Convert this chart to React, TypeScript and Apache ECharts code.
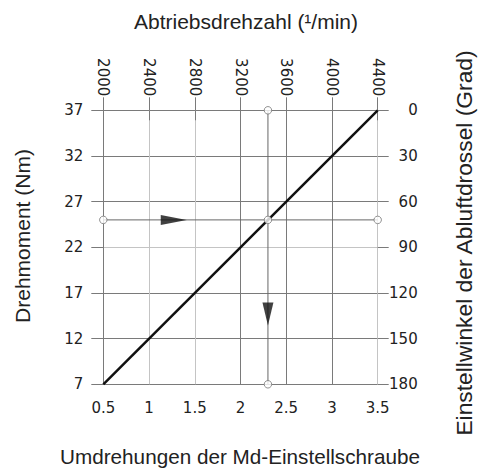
import React, { useEffect, useRef } from "react";
import * as echarts from "echarts";

// Axis ranges: [min, max, interval]
const turnsAxis = [0.5, 3.5, 0.5];
const speedAxis = [2000, 4400, 400];
const torqueAxis = [7, 37, 5];
const angleAxis = [0, 180, 30];

// Characteristic line (turns, torque)
const lineTurns = [0.5, 3.5];
const lineTorque = [7, 37];

// Example reading
const refTurns = 2.3;
const refTorque = 25;

// Arrow markers [turns, torque]
const arrowRight = [1.27, 25];
const arrowDown = [2.3, 14.7];

const DARK = "#7a7a7a";
const LIGHT = "#c4c4c4";
const LABEL_FONT = "DejaVu Sans";
const TITLE_FONT = "Liberation Sans";

export default function App() {
  const ref = useRef<HTMLDivElement>(null);
  useEffect(() => {
    if (!ref.current) return;
    const chart = echarts.init(ref.current, null, { renderer: "svg" });
    const labelStyle = { color: "#222", fontFamily: LABEL_FONT, fontSize: 15 };
    const titleStyle = {
      fontFamily: TITLE_FONT,
      fontSize: 21,
      fill: "#222",
      align: "center",
      verticalAlign: "middle",
    };
    const option: any = {
      animation: false,
      backgroundColor: "#fff",
      grid: { left: 103.3, right: 103.3, top: 110.3, bottom: 84.7 },
      xAxis: [
        {
          type: "value",
          position: "bottom",
          min: turnsAxis[0],
          max: turnsAxis[1],
          interval: turnsAxis[2],
          axisLine: { show: false },
          axisTick: { show: true, length: 10, lineStyle: { color: DARK } },
          axisLabel: { ...labelStyle, margin: 16 },
          splitLine: { show: true, lineStyle: { color: [DARK, LIGHT, LIGHT, DARK, DARK, DARK, LIGHT], width: 1 } },
        },
        {
          type: "value",
          position: "top",
          min: speedAxis[0],
          max: speedAxis[1],
          interval: speedAxis[2],
          axisLine: { show: false },
          axisTick: { show: true, length: 13, lineStyle: { color: DARK } },
          axisLabel: { ...labelStyle, margin: 14, rotate: 90, formatter: (v: number) => String(v) },
          splitLine: { show: false },
        },
      ],
      yAxis: [
        {
          type: "value",
          position: "left",
          min: torqueAxis[0],
          max: torqueAxis[1],
          interval: torqueAxis[2],
          axisLine: { show: false },
          axisTick: { show: true, length: 12, lineStyle: { color: DARK } },
          axisLabel: { ...labelStyle, margin: 20 },
          splitLine: { show: true, lineStyle: { color: [DARK, DARK, DARK, LIGHT, DARK, DARK, DARK], width: 1 } },
        },
        {
          type: "value",
          position: "right",
          inverse: true,
          min: angleAxis[0],
          max: angleAxis[1],
          interval: angleAxis[2],
          axisLine: { show: false },
          axisTick: { show: true, length: 11, lineStyle: { color: DARK } },
          axisLabel: { ...labelStyle, margin: 40, align: "right" },
          splitLine: { show: false },
        },
      ],
      series: [
        {
          type: "line",
          xAxisIndex: 0,
          yAxisIndex: 0,
          data: [
            [refTurns, torqueAxis[0]],
            [refTurns, torqueAxis[1]],
          ],
          symbol: "none",
          lineStyle: { color: "#666", width: 1 },
          z: 2,
        },
        {
          type: "line",
          xAxisIndex: 0,
          yAxisIndex: 0,
          data: [
            [turnsAxis[0], refTorque],
            [turnsAxis[1], refTorque],
          ],
          symbol: "none",
          lineStyle: { color: "#666", width: 1 },
          z: 2,
        },
        {
          type: "line",
          xAxisIndex: 0,
          yAxisIndex: 0,
          data: lineTurns.map((t, i) => [t, lineTorque[i]]),
          symbol: "none",
          lineStyle: { color: "#111", width: 2.5 },
          z: 3,
        },
        {
          type: "scatter",
          xAxisIndex: 0,
          yAxisIndex: 0,
          data: [
            [turnsAxis[0], refTorque],
            [refTurns, refTorque],
            [turnsAxis[1], refTorque],
            [refTurns, torqueAxis[1]],
            [refTurns, torqueAxis[0]],
          ],
          symbol: "circle",
          symbolSize: 7.5,
          itemStyle: { color: "#fff", borderColor: "#777", borderWidth: 1 },
          z: 5,
        },
        {
          type: "scatter",
          xAxisIndex: 0,
          yAxisIndex: 0,
          data: [arrowRight],
          symbol: "triangle",
          symbolSize: [10, 26],
          symbolRotate: -90,
          itemStyle: { color: "#111" },
          z: 5,
        },
        {
          type: "scatter",
          xAxisIndex: 0,
          yAxisIndex: 0,
          data: [arrowDown],
          symbol: "triangle",
          symbolSize: [11, 23],
          symbolRotate: 180,
          itemStyle: { color: "#111" },
          z: 5,
        },
      ],
      graphic: [
        {
          type: "text",
          x: 246,
          y: 21,
          style: { text: "Abtriebsdrehzahl (¹/min)", ...titleStyle },
        },
        {
          type: "text",
          x: 240,
          y: 456,
          style: { text: "Umdrehungen der Md-Einstellschraube", ...titleStyle, fontSize: 20.7 },
        },
        {
          type: "text",
          x: 22,
          y: 236,
          rotation: Math.PI / 2,
          style: { text: "Drehmoment (Nm)", ...titleStyle },
        },
        {
          type: "text",
          x: 464,
          y: 243,
          rotation: Math.PI / 2,
          style: { text: "Einstellwinkel der Abluftdrossel (Grad)", ...titleStyle, fontSize: 22.8 },
        },
      ],
    };
    chart.setOption(option);
    return () => chart.dispose();
  }, []);
  return (
    <div
      ref={ref}
      style={{ position: "fixed", left: 0, top: 0, width: 481, height: 469, background: "#fff" }}
    />
  );
}
